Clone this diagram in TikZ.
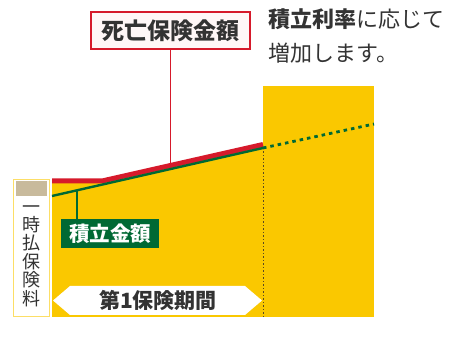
\documentclass[tikz,border=0pt]{standalone}
\usepackage{fontspec}
\setmainfont{Noto Sans CJK JP}
\usepackage{xcolor}
\definecolor{chartYellow}{HTML}{FAC800}
\definecolor{deathRed}{HTML}{D61A2B}
\definecolor{fundGreen}{HTML}{006934}
\definecolor{premiumTan}{HTML}{C8BA9C}
\definecolor{textGray}{HTML}{333333}
\definecolor{dotBrown}{HTML}{5A4A20}
\usetikzlibrary{positioning,calc}
\tikzset{%
  deathBox/.style={%
    rectangle,
    draw=deathRed,
    line width=1.8pt,
    fill=red!3,
    text=textGray,
    minimum width=159pt,
    minimum height=37pt,
    inner sep=0pt,
    font=\fontsize{23}{23}\selectfont\bfseries
  },
  fundBox/.style={%
    rectangle,
    fill=fundGreen,
    text=white,
    minimum width=98pt,
    minimum height=29pt,
    inner sep=0pt,
    font=\fontsize{20.5}{20.5}\selectfont\bfseries
  },
  noteText/.style={%
    text=textGray,
    align=left,
    inner sep=0pt,
    font=\fontsize{22}{34}\selectfont
  },
  premiumText/.style={%
    text=textGray,
    align=center,
    inner sep=0pt,
    font=\fontsize{18}{18.4}\selectfont
  },
  periodText/.style={%
    text=textGray,
    inner sep=0pt,
    font=\fontsize{21}{21}\selectfont\bfseries
  },
  redLine/.style={%
    deathRed,
    line width=5pt
  },
  greenLine/.style={%
    fundGreen,
    line width=2.4pt
  }
}

\begin{document}
\begin{tikzpicture}[x=1pt,y=-1pt]
  \useasboundingbox (0,0) rectangle (453,347);

  % yellow areas
  \fill[chartYellow] (52,317) -- (52,181) -- (102,181) -- (263,144) -- (263,317) -- cycle;
  \fill[chartYellow] (263,86) rectangle (374,317);

  % key points of the curves
  \coordinate (redStart) at (52,181);
  \coordinate (redBend) at (102,181);
  \coordinate (redEnd) at (263,144.5);
  \coordinate (greenStart) at (52,196);
  \coordinate (greenEnd) at (263,148);
  \coordinate (greenFuture) at (374,124);
  \coordinate (periodFoot) at (263,317);
  \coordinate (deathPoint) at (170.5,164);
  \coordinate (fundPoint) at (77,190.5);

  \draw[dotBrown, line width=1pt, dash pattern=on 1.5pt off 2pt] (greenEnd) -- (periodFoot);
  \draw[redLine] (redStart) -- (redBend) -- (redEnd);
  \draw[greenLine] (greenStart) -- (greenEnd);
  \draw[greenLine, line width=2.8pt, dash pattern=on 3.5pt off 4pt] (greenEnd) -- (greenFuture);

  % single premium column
  \node[draw=chartYellow!60, line width=1pt, fill=white, minimum width=36pt, minimum height=137pt,
        inner sep=0pt] (premiumBox) at (31,248.5) {};
  \node[fill=premiumTan, minimum width=31pt, minimum height=15pt, inner sep=0pt,
        below=1.5pt of premiumBox.north] (premiumTop) {};
  \node[premiumText] (premiumLabel) at (31,256) {一\\時\\払\\保\\険\\料};

  % labels
  \node[deathBox] (deathLabel) at (170.5,30.5) {死亡保険金額};
  \draw[deathRed, line width=1.5pt] (deathLabel.south) -- (deathPoint);

  \node[fundBox] (fundLabel) at (110,233.5) {積立金額};
  \draw[fundGreen, line width=1.5pt] (fundPoint) -- (fundPoint |- fundLabel.north);

  \node[noteText, anchor=north west] (rateNote) at (268,8) {\textbf{積立利率}に応じて\\増加します。};

  % first insurance period
  \fill[white] (53,300.5) -- (70,286) -- (245,286) -- (262,300.5) -- (245,315) -- (70,315) -- cycle;
  \node[periodText] (periodLabel) at (158,300.5) {第1保険期間};

\end{tikzpicture}
\end{document}
